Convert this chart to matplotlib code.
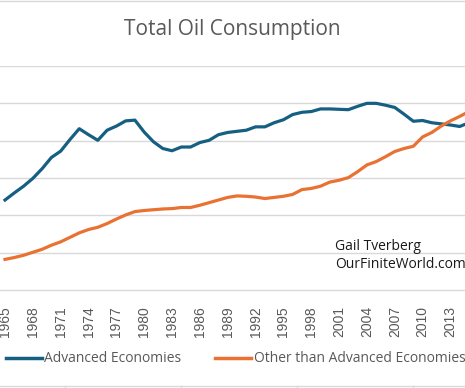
import numpy as np
import matplotlib.pyplot as plt
from matplotlib.lines import Line2D

years = np.arange(1965, 2016)

advanced = [24.1, 26.0, 27.8, 29.9, 32.5, 35.5, 37.2, 40.3, 43.2, 41.6,
            40.1, 42.8, 43.9, 45.3, 45.5, 42.3, 39.7, 37.9, 37.3, 38.3,
            38.3, 39.5, 40.1, 41.6, 42.2, 42.5, 42.8, 43.7, 43.7, 44.8,
            45.6, 47.0, 47.6, 47.8, 48.5, 48.5, 48.4, 48.3, 49.2, 50.0,
            50.0, 49.5, 48.9, 47.1, 45.2, 45.4, 44.8, 44.5, 44.2, 43.8,
            44.8]

other = [8.2, 8.7, 9.3, 10.1, 10.9, 12.0, 12.9, 14.1, 15.3, 16.2,
         16.8, 17.8, 19.0, 20.1, 21.0, 21.3, 21.5, 21.7, 21.8, 22.1,
         22.1, 22.7, 23.4, 24.1, 24.8, 25.2, 25.1, 24.9, 24.5, 24.8,
         25.1, 25.6, 26.9, 27.2, 27.8, 28.9, 29.4, 30.1, 31.7, 33.5,
         34.4, 35.7, 37.1, 37.9, 38.5, 41.0, 42.2, 43.9, 45.3, 46.5,
         47.8]

tick_years = list(range(1965, 2014, 3))

blue = '#156082'
orange = '#E97132'
grid_gray = '#d9d9d9'
text_gray = '#595959'

fig = plt.figure(figsize=(4.65, 3.88), dpi=100)
W, H = 465, 388

# plot area: bottom at y=290 px, top at y=66 px, spans full width (cropped chart)
ax = fig.add_axes([0, (H - 290) / H, 1, (290 - 66) / H])
ax.plot(years, advanced, color=blue, linewidth=2.3, solid_joinstyle='round')
ax.plot(years, other, color=orange, linewidth=2.3, solid_joinstyle='round')

ax.set_xlim(1964.46, 2014.57)
ax.set_ylim(0, 60)
ax.set_yticks(np.arange(10, 61, 10))
ax.grid(axis='y', color=grid_gray, linewidth=1)
ax.set_axisbelow(True)
for s in ['top', 'left', 'right']:
    ax.spines[s].set_visible(False)
ax.spines['bottom'].set_color(grid_gray)
ax.spines['bottom'].set_linewidth(1)
ax.tick_params(left=False, labelleft=False, bottom=False)
ax.set_xticks(tick_years)
ax.set_xticklabels([str(y) for y in tick_years], rotation=90,
                   fontfamily='Liberation Sans', fontsize=10, color=text_gray)
ax.tick_params(axis='x', pad=8)

fig.text(0.5, (H - 30) / H, 'Total Oil Consumption', ha='center', va='center',
         fontsize=15, color=text_gray, fontfamily='Open Sans')

ax.text(335 / W, (H - 246) / H, 'Gail Tverberg', transform=fig.transFigure,
        ha='left', va='center', fontsize=10, color='#1a1a1a', fontfamily='Open Sans')
ax.text(335 / W, (H - 265) / H, 'OurFiniteWorld.com', transform=fig.transFigure,
        ha='left', va='center', fontsize=10, color='#1a1a1a', fontfamily='Open Sans')

handles = [Line2D([], [], color=blue, linewidth=2.5),
           Line2D([], [], color=orange, linewidth=2.5)]
fig.legend(handles, ['Advanced Economies', 'Other than Advanced Economies'],
           loc='center', bbox_to_anchor=(0.5 + 3 / W, (H - 359) / H), ncol=2,
           frameon=False, handlelength=2.6, handletextpad=0.2, columnspacing=2.4,
           prop={'family': 'Open Sans', 'size': 10}, labelcolor=text_gray)

# faint frame lines of the surrounding page
fig.add_artist(Line2D([0, 1], [(H - 1) / H] * 2, color=grid_gray, linewidth=1))
fig.add_artist(Line2D([0, 1], [(H - 386) / H] * 2, color=grid_gray, linewidth=1))
for xd in [65, 181, 297, 413]:
    fig.add_artist(Line2D([xd / W] * 2, [0, (H - 386) / H], color=grid_gray, linewidth=1))

fig.savefig('out.png', dpi=100)
